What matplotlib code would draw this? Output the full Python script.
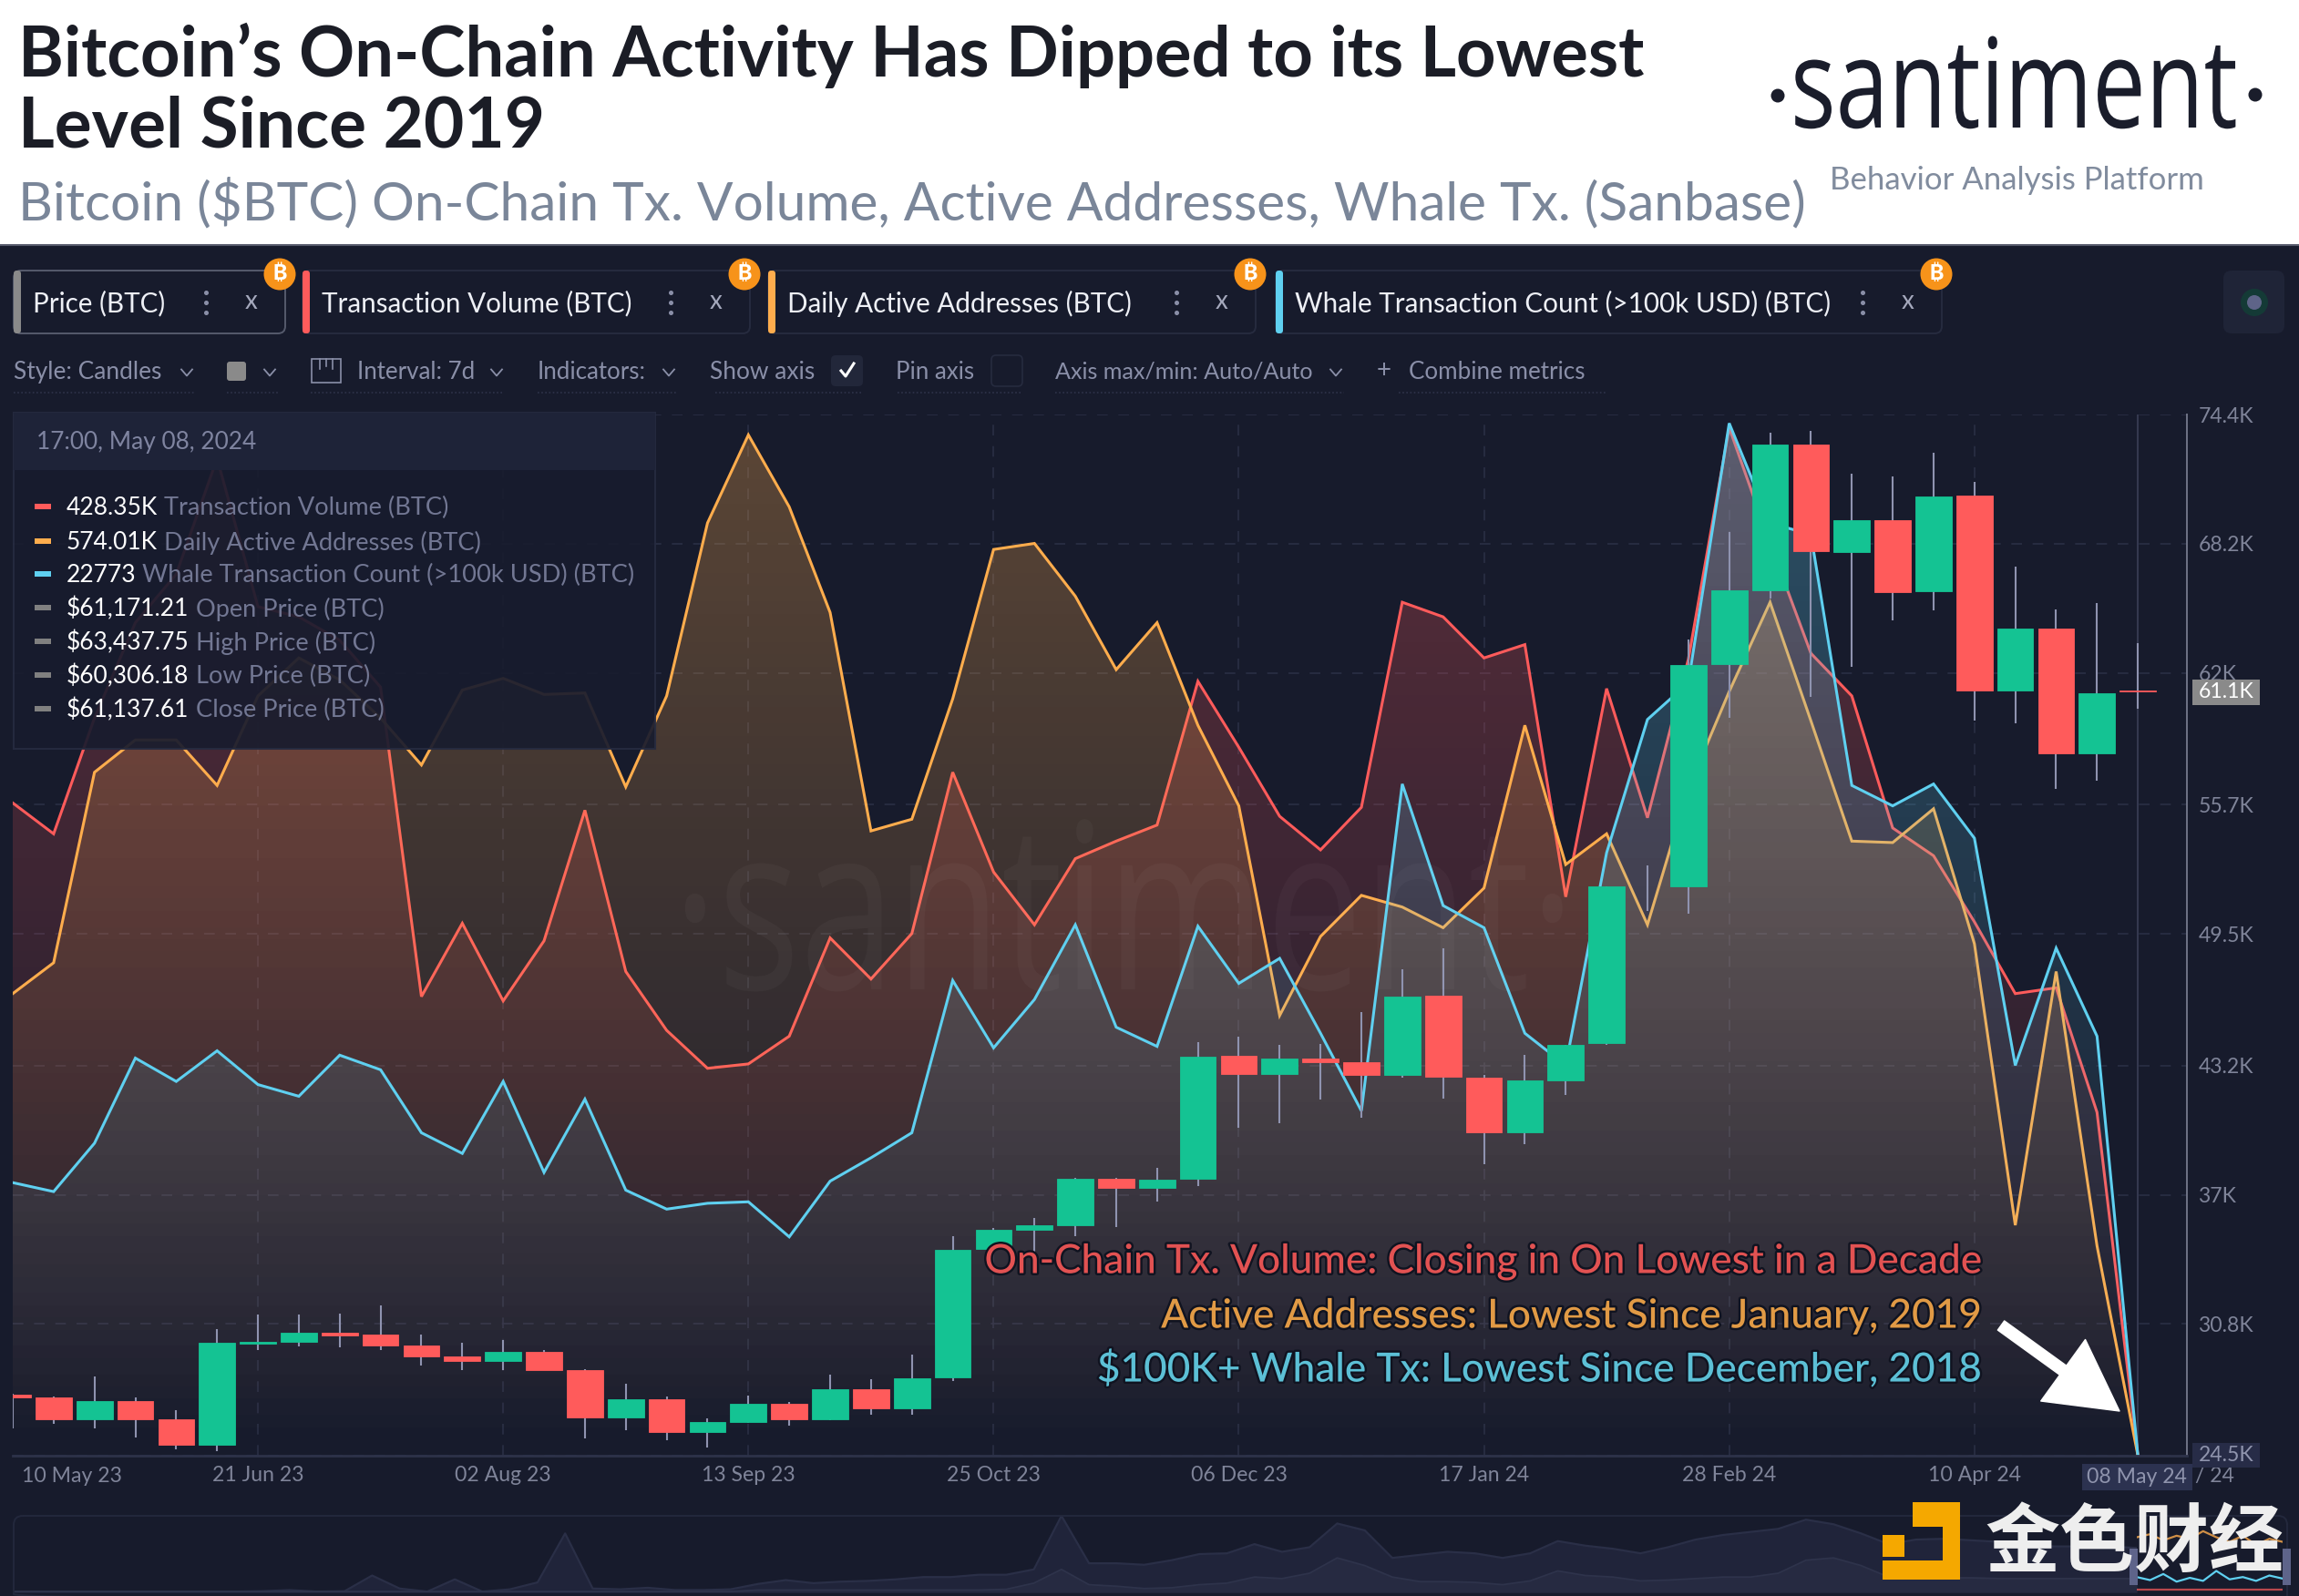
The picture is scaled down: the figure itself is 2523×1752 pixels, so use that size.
import numpy as np
import matplotlib
matplotlib.use("Agg")
import matplotlib.pyplot as plt
from matplotlib.patches import FancyBboxPatch, Rectangle, Circle, Polygon, FancyArrowPatch
from matplotlib.patheffects import AbstractPathEffect
from matplotlib.transforms import Affine2D
import matplotlib.patheffects as pe

plt.rcParams['font.family'] = ['Lato', 'DejaVu Sans']

W, H = 2523, 1752

# weekly candles, thousands of USD, 10 May 23 to 08 May 24
price_open = [27.43, 27.27, 26.22, 27.12, 26.22, 25.0, 29.84, 29.96, 30.38, 30.28, 29.79, 29.23, 29.04,
              29.45, 28.58, 26.32, 27.18, 25.64, 26.12, 27.0, 26.25, 27.66, 26.76, 28.23, 34.41, 35.32,
              35.53, 37.76, 37.31, 37.75, 43.64, 42.78, 43.54, 43.35, 42.75, 46.52, 42.61, 39.97, 42.48,
              44.25, 51.8, 51.76, 62.42, 65.99, 72.98, 67.8, 69.32, 65.91, 70.51, 61.19, 64.15, 58.17, 61.17]
price_close = [27.28, 26.23, 27.09, 26.25, 25.01, 29.9, 29.97, 30.4, 30.27, 29.79, 29.25, 29.04, 29.47,
               28.59, 26.32, 27.18, 25.64, 26.1, 27.0, 26.25, 27.66, 26.76, 28.2, 34.37, 35.32, 35.55,
               37.76, 37.33, 37.73, 43.61, 42.78, 43.53, 43.34, 42.75, 46.5, 42.64, 39.97, 42.46, 44.2,
               51.77, 51.8, 62.38, 65.99, 72.96, 67.84, 69.34, 65.89, 70.45, 61.19, 64.15, 58.17, 61.05, 61.14]
price_high = [27.45, 27.35, 28.3, 27.28, 26.68, 30.54, 31.27, 31.27, 31.31, 31.71, 30.29, 29.89, 30.03,
              29.57, 28.65, 27.92, 27.34, 26.29, 27.38, 27.05, 28.37, 28.14, 29.35, 35.0, 35.42, 35.87,
              37.82, 37.79, 38.27, 44.3, 44.56, 44.2, 44.24, 45.77, 47.79, 48.82, 42.74, 43.69, 44.2,
              51.8, 52.78, 63.6, 68.77, 73.53, 73.63, 71.54, 71.42, 72.55, 71.15, 67.1, 65.05, 65.34, 63.44]
price_low = [25.78, 26.0, 25.81, 25.35, 24.79, 24.72, 29.57, 29.74, 29.7, 29.57, 28.81, 28.61, 28.61,
             28.59, 25.3, 25.71, 25.24, 24.88, 26.06, 25.91, 26.2, 26.44, 26.44, 28.08, 34.3, 34.15,
             35.02, 35.43, 36.66, 37.43, 40.19, 40.44, 41.58, 40.7, 42.59, 41.6, 38.45, 39.44, 41.76,
             44.2, 50.6, 50.45, 59.88, 65.6, 60.86, 62.32, 64.52, 65.01, 59.73, 59.59, 56.47, 56.86, 60.31]

tx_volume = [55.78, 54.3, 59.85, 64.42, 66.74, 72.29, 65.19, 64.7, 63.58, 61.33, 46.5, 50.01, 46.29,
             49.17, 55.43, 47.7, 44.88, 43.06, 43.27, 44.6, 49.31, 47.34, 49.52, 57.25, 52.47, 49.94,
             53.11, 53.95, 54.72, 61.61, 58.45, 55.14, 53.53, 55.57, 65.4, 64.7, 62.73, 63.37, 51.28,
             61.26, 55.07, 62.66, 73.77, 68.22, 62.95, 60.91, 54.58, 53.25, 50.08, 46.64, 46.92, 40.95, 24.5]
active_addresses = [46.64, 48.12, 57.25, 58.8, 58.8, 56.62, 60.91, 62.73, 61.68, 59.85, 57.6, 61.19, 61.75,
                    60.98, 61.05, 56.55, 60.91, 69.2, 73.42, 69.97, 64.91, 54.44, 55.0, 60.77, 67.93, 68.22,
                    65.69, 62.17, 64.42, 59.5, 55.64, 45.59, 49.38, 51.35, 50.79, 49.8, 51.7, 59.5, 52.83,
                    54.3, 49.94, 56.48, 61.12, 65.4, 59.71, 53.95, 53.88, 55.5, 49.03, 35.54, 47.7, 34.55, 24.5]
whale_count = [37.58, 37.15, 39.47, 43.55, 42.43, 43.9, 42.28, 41.72, 43.69, 42.99, 39.97, 38.98, 42.43,
               38.07, 41.58, 37.22, 36.31, 36.59, 36.66, 34.98, 37.65, 38.77, 39.97, 47.27, 44.04, 46.36,
               49.94, 45.03, 44.11, 49.87, 47.13, 48.33, 44.74, 41.02, 56.69, 50.86, 49.8, 44.74, 43.2,
               53.39, 59.78, 61.54, 73.98, 69.2, 68.64, 56.62, 55.64, 56.69, 54.09, 43.2, 48.82, 44.6, 24.5]

price_ticks = [74.4, 68.2, 62, 55.7, 49.5, 43.2, 37, 30.8, 24.5]
price_labels = ['74.4K', '68.2K', '62K', '55.7K', '49.5K', '43.2K', '37K', '30.8K', '']
date_ticks = [6, 12, 18, 24, 30, 36, 42, 48]
date_labels = ['21 Jun 23', '02 Aug 23', '13 Sep 23', '25 Oct 23', '06 Dec 23', '17 Jan 24', '28 Feb 24', '10 Apr 24']

# navigator strip under the chart, share of the strip height
nav_upper = [.01, .01, .01, .01, .01, .01, .01, .01, .01, .015, .03, .01, .015, .22, .05, .01, .17, .01, .04,
             .13, .77, .05, .04, .06, .03, .03, .04, .11, .16, .12, .14, .15, .17, .2, .2, .23, .23, .3, 1.0,
             .38, .38, .36, .42, .5, .51, .63, .53, .59, .9, .81, .45, .49, .53, .51, .45, .51, .67, .61, .57,
             .51, .59, .69, .75, .79, .83, .95, .89, .77, .63, .69, .7, .68, .66, .62, .6, .6, .6, .58]
nav_lower = [.01, .01, .01, .01, .01, .01, .01, .01, .01, .01, .01, .01, .01, .01, .01, .01, .01, .01, .01,
             .01, .01, .01, .01, .01, .01, .01, .01, .03, .03, .03, .03, .03, .03, .03, .03, .03, .04, .12,
             .3, .1, .08, .05, .06, .1, .12, .2, .18, .25, .45, .35, .2, .14, .14, .13, .1, .15, .28, .22,
             .2, .15, .16, .18, .2, .2, .25, .42, .45, .35, .2, .2, .19, .19, .18, .18, .18, .18, .18, .18]
sel_daa = [.72, .76, .68, .74, .7, .8, .72, .66, .74, .62, .7, .66]
sel_whale = [.2, .16, .24, .14, .19, .15, .28, .17, .2, .15, .22, .18]
sel_tx = [.04, .04, .04, .04, .04, .04, .04, .04, .04, .04, .04, .04]

BG = '#171b2c'
RED = '#ff5b5b'
ORANGE = '#ffad4d'
BLUE = '#5fd0f0'
GREEN = '#14c393'
MUTED = '#8a8fa8'

fig = plt.figure(figsize=(W / 100, H / 100), dpi=100, facecolor=BG)


def axes_px(x0, y0, x1, y1, **kw):
    return fig.add_axes([x0 / W, 1 - y1 / H, (x1 - x0) / W, (y1 - y0) / H], **kw)


ax = axes_px(14, 455, 2400, 1598, facecolor=BG, zorder=1)
weeks = np.arange(len(price_open))


def gradient_area(values, color):
    rgba = np.zeros((256, 1, 4))
    rgba[:, 0, :3] = matplotlib.colors.to_rgb(color)
    rgba[:, 0, 3] = np.linspace(0.3, 0.0, 256)
    im = ax.imshow(rgba, extent=[0, 53.2, 24.5, 74.4], aspect='auto', origin='upper', zorder=2)
    verts = list(zip(weeks, values)) + [(weeks[-1], 24.5), (0, 24.5)]
    clip = Polygon(verts, closed=True, transform=ax.transData, fc='none', ec='none')
    ax.add_patch(clip)
    im.set_clip_path(clip)
    ax.plot(weeks, values, color=color, lw=2.2, zorder=2, solid_joinstyle='miter')


gradient_area(tx_volume, RED)
gradient_area(active_addresses, ORANGE)
gradient_area(whale_count, BLUE)

# candles, a week with no move has only its wick
o = np.array(price_open)
c = np.array(price_close)
moved = o != c
colors = np.where(c >= o, GREEN, RED)
ax.vlines(weeks, price_low, price_high, color='#8f93b0', lw=1.5, zorder=3)
ax.bar(weeks[moved], np.abs(c - o)[moved], bottom=np.minimum(o, c)[moved], width=0.885,
       color=colors[moved], edgecolor=colors[moved], lw=0.6, zorder=4)

ax.set_xlim(0, 53.2)
ax.set_ylim(24.49, 74.4)
ax.set_xticks(date_ticks, date_labels)
ax.set_yticks(price_ticks, price_labels)
ax.yaxis.tick_right()
ax.tick_params(length=0, colors='#7f8499', labelsize=16.6)
ax.tick_params(axis='x', pad=8)
ax.tick_params(axis='y', pad=9)
ax.grid(True, color='#2a2f45', lw=1.2, ls=(0, (7, 7)), zorder=0)
ax.set_axisbelow(True)
for side in ['left', 'top']:
    ax.spines[side].set_visible(False)
ax.spines['right'].set_color('#6f7386')
ax.spines['right'].set_linewidth(1.4)
ax.spines['bottom'].set_color('#2d3249')
ax.spines['bottom'].set_linewidth(2)
ax.axvline(52, color='#3a3f57', lw=1.2, zorder=1)
ax.text(1.44, -0.0195, '10 May 23', transform=ax.get_xaxis_transform(), ha='center', va='center', color='#7f8499', fontsize=16.6)

# navigator
nav = axes_px(15, 1664, 2345, 1748, facecolor='none', zorder=1)
xs = np.arange(len(nav_upper))
nav.fill_between(xs, nav_upper, color='#20243a', lw=0)
nav.plot(xs, nav_upper, color='#2a2f47', lw=1.6)
nav.fill_between(xs, nav_lower, color='#262a41', lw=0)
nav.plot(xs, nav_lower, color='#2e334b', lw=1.3)
nav.set_xlim(0, len(nav_upper) - 1)
nav.set_ylim(0, 1)
nav.axis('off')

sel = axes_px(2345, 1664, 2505, 1748, facecolor='#3a3640', zorder=1)
sx = np.arange(len(sel_daa))
sel.plot(sx, sel_daa, color=ORANGE, lw=1.6, alpha=.8)
sel.plot(sx, sel_whale, color=BLUE, lw=1.6)
sel.plot(sx, sel_tx, color=RED, lw=1.6, alpha=.7)
sel.set_xlim(0, len(sel_daa) - 1)
sel.set_ylim(0, 1)
sel.axis('off')

# page furniture in pixel coordinates
ui = fig.add_axes([0, 0, 1, 1], facecolor='none', zorder=5)
ui.set_xlim(0, W)
ui.set_ylim(H, 0)
ui.axis('off')


class Squeeze(AbstractPathEffect):
    # the logo font is condensed and none installed is, so scale the glyphs about the text origin
    def __init__(self, x, y, sx, sy):
        super().__init__()
        self.x, self.y, self.sx, self.sy = x, H - y, sx, sy

    def draw_path(self, renderer, gc, tpath, affine, rgbFace=None):
        scaled = affine + Affine2D().translate(-self.x, -self.y).scale(self.sx, self.sy).translate(self.x, self.y)
        renderer.draw_path(gc, tpath, scaled, rgbFace)


def txt(x, y, s, color=MUTED, size=16, ha='left', va='center', **kw):
    return ui.text(x, y, s, color=color, fontsize=size, ha=ha, va=va, **kw)


def box(x0, y0, x1, y1, fc='none', ec='none', lw=1.0, r=6, **kw):
    p = FancyBboxPatch((x0 + r, y0 + r), x1 - x0 - 2 * r, y1 - y0 - 2 * r, boxstyle=f'round,pad={r},rounding_size={r}',
                       fc=fc, ec=ec, lw=lw, **kw)
    ui.add_patch(p)
    return p


def chevron(x, y, color=MUTED):
    ui.plot([x - 6, x, x + 6], [y - 3, y + 4, y - 3], color=color, lw=1.3)


# white header
ui.add_patch(Rectangle((0, 0), W, 268, fc='white', ec='none'))
ui.plot([0, W], [269, 269], color='#55596a', lw=1.5)
txt(20, 84, 'Bitcoin’s On-Chain Activity Has Dipped to its Lowest', color='#1b1d26', size=54.6, va='baseline', weight='bold')
txt(20, 161, 'Level Since 2019', color='#1b1d26', size=55.2, va='baseline', weight='bold')
txt(20, 241, 'Bitcoin ($BTC) On-Chain Tx. Volume, Active Addresses, Whale Tx. (Sanbase)', color='#7a8699', size=42.2, va='baseline')
txt(1965, 140, 'santiment', color='#1a1d2b', size=60, va='baseline', weight='medium', family=['Open Sans', 'DejaVu Sans'],
    path_effects=[Squeeze(1965, 140, 1.25, 1.64)])
ui.add_patch(Circle((1951, 105), 7.5, fc='#1a1d2b', ec='none'))
ui.add_patch(Circle((2475, 104), 7.5, fc='#1a1d2b', ec='none'))
txt(2008, 208, 'Behavior Analysis Platform', color='#7a8699', size=25, va='baseline', alpha=.95)

# faint watermark over the chart
txt(738, 1086, '·santiment·', color='white', size=60, va='baseline', alpha=.03, family=['Open Sans', 'DejaVu Sans'],
    path_effects=[Squeeze(738, 1086, 2.27, 3.05)])

# metric tabs
tabs = [(15, 313, '#8a8a8a', 'Price (BTC)'), (332, 823, RED, 'Transaction Volume (BTC)'),
        (843, 1378, ORANGE, 'Daily Active Addresses (BTC)'), (1400, 2131, BLUE, 'Whale Transaction Count (>100k USD) (BTC)')]
for x0, x1, col, label in tabs:
    box(x0, 297, x1, 366, ec='#555a6c' if label.startswith('Price') else '#262b3f', lw=1.4, r=8)
    box(x0, 297, x0 + 8, 366, fc=col, r=3.5)
    txt(x0 + 21, 333.5, label, color='#eef0f6', size=21.3)
    ui.plot([x1 - 87] * 3, [321, 332, 343], ls='none', marker='o', ms=2.6, color=MUTED)
    txt(x1 - 37, 331, 'x', color='#a5a9bd', size=20, ha='center')
    ui.add_patch(Circle((x1 - 6, 301), 17.5, fc='#f7931a', ec='none'))
    txt(x1 - 6, 301, '₿', color='white', size=17, ha='center', weight='bold',
        family=['Inter', 'Noto Sans', 'Roboto', 'Open Sans', 'DejaVu Sans'])

# controls row
row_y = 408.5
for x, s, size in [(15, 'Style: Candles', 18.9), (392, 'Interval: 7d', 18.6), (590, 'Indicators:', 18.6), (779, 'Show axis', 18.9),
                   (983, 'Pin axis', 18.6), (1158, 'Axis max/min: Auto/Auto', 18.1), (1546, 'Combine metrics', 18.7)]:
    txt(x, row_y, s, size=size)
for x in [205, 296, 545, 734, 1466]:
    chevron(x, row_y)
box(249, 397, 270, 418, fc='#8a8a8a', r=3)
ui.add_patch(Rectangle((342, 394), 32, 26, fc='none', ec=MUTED, lw=1.2))
ui.plot([351, 351], [394, 405], color=MUTED, lw=1.2)
ui.plot([358, 358], [394, 402], color=MUTED, lw=1.2)
ui.plot([365, 365], [394, 405], color=MUTED, lw=1.2)
box(912, 390, 947, 424, fc='#22273a', r=5)
ui.plot([923, 928, 937], [407, 413, 399], color='white', lw=2.2)
box(1088, 390, 1122, 424, ec='#262b3f', lw=1.2, r=5)
txt(1519, row_y - 1, '+', size=20, ha='center')
for x0, x1 in [(15, 213), (249, 305), (341, 553), (590, 743), (785, 945), (985, 1120), (1158, 1475), (1535, 1762)]:
    ui.plot([x0, x1], [431, 431], color='#2e3349', lw=1.2, ls=(0, (1, 1.5)))
box(2440, 297, 2507, 366, fc='#1f2437', r=9)
ui.add_patch(Circle((2474, 332), 15, fc='#143a36', ec='none'))
ui.add_patch(Circle((2474, 332), 8, fc='#5e6488', ec='none'))

# tooltip
ui.add_patch(Rectangle((15, 453), 704, 369, fc='#181c2e', ec='#262b40', lw=1.5, alpha=.93))
ui.add_patch(Rectangle((15, 453), 704, 63, fc='#1e2338', ec='none'))
txt(40, 486, '17:00, May 08, 2024', color='#7f84a0', size=18.9)
rows = [(556, RED, '428.35K', 180, 'Transaction Volume (BTC)'),
        (594, ORANGE, '574.01K', 180, 'Daily Active Addresses (BTC)'),
        (630, BLUE, '22773', 156, 'Whale Transaction Count (>100k USD) (BTC)'),
        (667, '#808080', '$61,171.21', 215, 'Open Price (BTC)'),
        (704, '#808080', '$63,437.75', 215, 'High Price (BTC)'),
        (741, '#808080', '$60,306.18', 215, 'Low Price (BTC)'),
        (778, '#808080', '$61,137.61', 215, 'Close Price (BTC)')]
for y, col, val, lx, label in rows:
    ui.add_patch(Rectangle((38, y - 3), 18, 6, fc=col, ec='none'))
    txt(73, y + 1.5, val, color='white', size=19)
    txt(lx, y + 1.5, label, color='#727793', size=19.6)

# price tags
ui.add_patch(Rectangle((2406, 746), 74, 28, fc='#8a8a8a', ec='none', zorder=3.5))
txt(2443, 760, '61.1K', color='white', size=16.6, ha='center', zorder=4)
ui.add_patch(Rectangle((2406, 1584), 74, 27, fc='#272c47', ec='none', zorder=3.5))
txt(2443, 1597, '24.5K', color='#8f94ad', size=16.6, ha='center', zorder=4)
txt(2409, 1621, '/ 24', color='#7f8499', size=16.6)
ui.add_patch(Rectangle((2285, 1607), 121, 29, fc='#2c3250', ec='none', zorder=3.5))
txt(2345, 1621, '08 May 24', color='#8f94ad', size=16.6, ha='center', zorder=4)

# callouts
stroke = [pe.withStroke(linewidth=3.5, foreground='#101320')]
for y, col, s in [(1385, '#e25252', 'On-Chain Tx. Volume: Closing in On Lowest in a Decade'),
                  (1445, '#e19a45', 'Active Addresses: Lowest Since January, 2019'),
                  (1503, '#5cc0d6', '$100K+ Whale Tx: Lowest Since December, 2018')]:
    txt(2173, y, s, color=col, size=31.8, ha='right', weight='medium', path_effects=stroke)
ui.add_patch(FancyArrowPatch((2196, 1455), (2326, 1549), mutation_scale=1, fc='white', ec='white', lw=1,
                             arrowstyle='simple,head_length=55,head_width=60,tail_width=9', shrinkA=0, shrinkB=0))

# navigator frame and the site mark on top of it
box(15, 1664, 2510, 1760, ec='#23283c', lw=1.4, r=10)
ui.add_patch(Rectangle((2337, 1700), 9, 40, fc='#5e648a', ec='none'))
ui.add_patch(Rectangle((2505, 1700), 9, 40, fc='#5e648a', ec='none'))
for x, y, w, h in [(2099, 1649, 52, 27), (2132, 1649, 19, 85), (2066, 1713, 85, 21), (2066, 1685, 24, 24)]:
    ui.add_patch(Rectangle((x, y), w, h, fc='#f5a800', ec='none'))
txt(2342, 1695, '金色财经', color='#eeeeee', size=59, ha='center', weight='bold', family=['Noto Sans CJK SC', 'DejaVu Sans'])

fig.savefig('out.png', dpi=100, facecolor=BG)
